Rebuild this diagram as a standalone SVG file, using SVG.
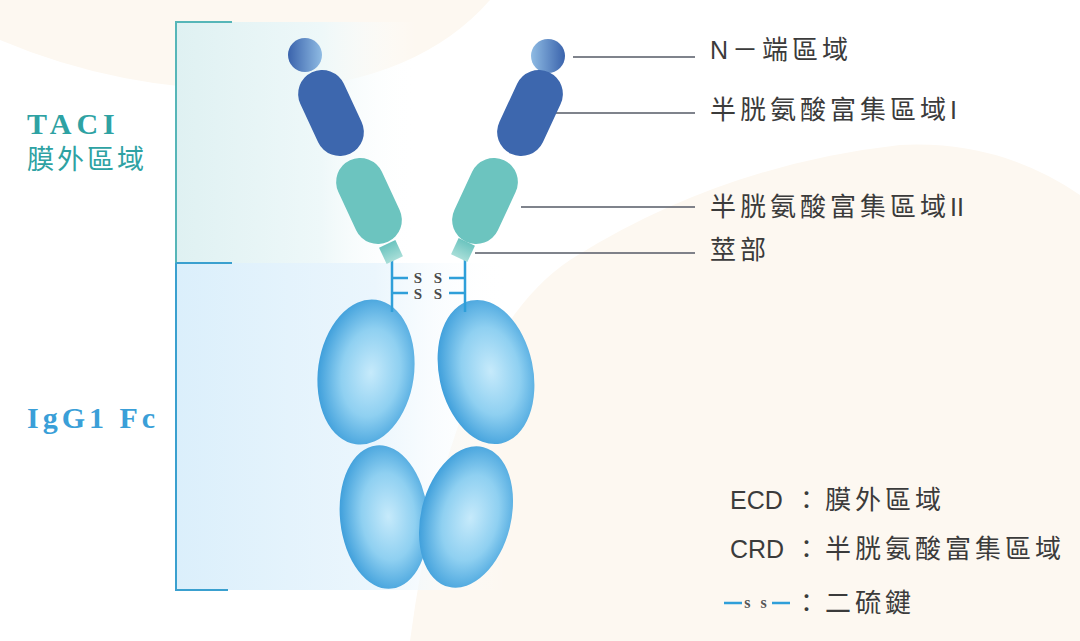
<svg xmlns="http://www.w3.org/2000/svg" width="1080" height="641" viewBox="0 0 1080 641">
<defs>
<style>
.lbl{font-family:"Liberation Sans","Noto Sans CJK TC",sans-serif;font-size:25px;fill:#3b3b3b}
.cjk{font-size:26px;letter-spacing:4px}
.lead{stroke:#555a66;stroke-width:1.6;fill:none}
.ss{font-family:"Liberation Serif",serif;font-weight:bold;font-size:15px;fill:#4a4a4a;letter-spacing:4px}
.bond{stroke:#2f9fd9;stroke-width:2.5;fill:none}
.crd1{fill:#3d67ae}
.crd2{fill:#6cc4bf}
.fc{fill:url(#gFc)}
</style>
<linearGradient id="gTop" x1="0" y1="0" x2="1" y2="0">
<stop offset="0" stop-color="#dff1f2"/><stop offset="0.6" stop-color="#eef8f9"/><stop offset="1" stop-color="#ffffff" stop-opacity="0"/>
</linearGradient>
<linearGradient id="gBot" x1="0" y1="0" x2="1" y2="0">
<stop offset="0" stop-color="#dbeffb"/><stop offset="0.6" stop-color="#ebf6fd"/><stop offset="1" stop-color="#ffffff" stop-opacity="0"/>
</linearGradient>
<linearGradient id="gNL" x1="0" y1="0" x2="1" y2="0">
<stop offset="0" stop-color="#3a63ac"/><stop offset="1" stop-color="#8fbbe3"/>
</linearGradient>
<linearGradient id="gNR" x1="0" y1="0" x2="1" y2="0">
<stop offset="0" stop-color="#8fbbe3"/><stop offset="1" stop-color="#3a63ac"/>
</linearGradient>
<linearGradient id="gStalk" x1="0" y1="0" x2="0" y2="1">
<stop offset="0" stop-color="#6cc4bf"/><stop offset="1" stop-color="#a8ded8"/>
</linearGradient>
<radialGradient id="gFc" cx="0.55" cy="0.5" r="0.55">
<stop offset="0" stop-color="#c6eafb"/><stop offset="0.55" stop-color="#8fd0f1"/><stop offset="1" stop-color="#3f9fdb"/>
</radialGradient>
</defs>
<rect width="1080" height="641" fill="#ffffff"/>
<g id="background">
<path d="M0,0 L0,40 Q130,95 280,90 Q420,80 490,0 Z" fill="#fdf8f1"/>
<path d="M1080,195 Q1000,140 900,145 Q720,165 570,260 Q450,340 410,641 L1080,641 Z" fill="#fdf8f1"/>
<rect x="177" y="22" width="240" height="241" fill="url(#gTop)"/>
<rect x="177" y="263" width="330" height="327" fill="url(#gBot)"/>
</g>
<g id="bracket">
<path d="M232,22 H176 V263" stroke="#56b6b8" stroke-width="2" fill="none"/>
<path d="M176,263 H232 M176,263 V590 H228" stroke="#3aa0cf" stroke-width="2" fill="none"/>
</g>
<g id="side-labels">
<text x="27" y="134" font-family="Liberation Serif,serif" font-weight="bold" font-size="30" fill="#2ea2a3" letter-spacing="5">TACI</text>
<text x="27" y="169" font-family="Liberation Sans,Noto Sans CJK TC,sans-serif" font-size="27" fill="#2ea2a3" letter-spacing="3">膜外區域</text>
<text x="27" y="428" font-family="Liberation Serif,serif" font-weight="bold" font-size="30" fill="#3a9fd8" letter-spacing="4">IgG1 Fc</text>
</g>
<g id="connectors">
<line class="lead" x1="573" y1="57" x2="695" y2="57"/>
<line class="lead" x1="547" y1="113" x2="695" y2="113"/>
<line class="lead" x1="521" y1="207" x2="695" y2="207"/>
<line class="lead" x1="475" y1="253" x2="695" y2="253"/>
</g>
<g id="fc-domains">
<ellipse class="fc" cx="384" cy="517" rx="44" ry="72" transform="rotate(-6 384 517)"/>
<ellipse class="fc" cx="466" cy="517" rx="45" ry="72" transform="rotate(14 466 517)"/>
<ellipse class="fc" cx="366" cy="372" rx="48" ry="73" transform="rotate(8 366 372)"/>
<ellipse class="fc" cx="486" cy="372" rx="47" ry="73" transform="rotate(-12 486 372)"/>
</g>
<g id="hinge">
<path class="bond" d="M392,260 V312 M392,278 H408 M392,293 H408"/>
<path class="bond" d="M465,258 V312 M465,278 H449 M465,293 H449"/>
<text class="ss" x="430" y="283" text-anchor="middle">S S</text>
<text class="ss" x="430" y="299" text-anchor="middle">S S</text>
</g>
<g id="left-arm">
<circle cx="305" cy="55" r="17" fill="url(#gNL)"/>
<rect class="crd1" x="-24" y="-45" width="48" height="90" rx="24" transform="translate(331,113) rotate(-25)"/>
<rect class="crd2" x="-24" y="-45" width="48" height="90" rx="24" transform="translate(369,201) rotate(-25)"/>
<rect x="-9" y="-9" width="18" height="18" fill="url(#gStalk)" transform="translate(391,252) rotate(-25)"/>
</g>
<g id="right-arm">
<circle cx="548" cy="56" r="17" fill="url(#gNR)"/>
<rect class="crd1" x="-24" y="-45" width="48" height="90" rx="24" transform="translate(530,113) rotate(25)"/>
<rect class="crd2" x="-24" y="-45" width="48" height="90" rx="24" transform="translate(485,201) rotate(25)"/>
<rect x="-9" y="-9" width="18" height="18" fill="url(#gStalk)" transform="translate(463,250) rotate(25)"/>
</g>
<g id="labels">
<text class="lbl" x="710" y="59">N<tspan class="cjk" x="732">－端區域</tspan></text>
<text class="lbl" x="710" y="119"><tspan class="cjk">半胱氨酸富集區域</tspan>I</text>
<text class="lbl" x="710" y="216"><tspan class="cjk">半胱氨酸富集區域</tspan>II</text>
<text class="lbl cjk" x="710" y="259">莖部</text>
</g>
<g id="legend">
<text class="lbl" x="730" y="509">ECD</text>
<text class="lbl" x="794" y="509">：</text>
<text class="lbl cjk" x="825" y="509">膜外區域</text>
<text class="lbl" x="730" y="558">CRD</text>
<text class="lbl" x="794" y="558">：</text>
<text class="lbl cjk" x="825" y="558">半胱氨酸富集區域</text>
<line class="bond" x1="724" y1="603" x2="742" y2="603"/>
<text x="757" y="608" text-anchor="middle" font-family="Liberation Serif,serif" font-weight="bold" font-size="16" fill="#555" letter-spacing="3">s s</text>
<line class="bond" x1="772" y1="603" x2="790" y2="603"/>
<text class="lbl" x="794" y="612">：</text>
<text class="lbl cjk" x="825" y="612">二硫鍵</text>
</g>
</svg>
